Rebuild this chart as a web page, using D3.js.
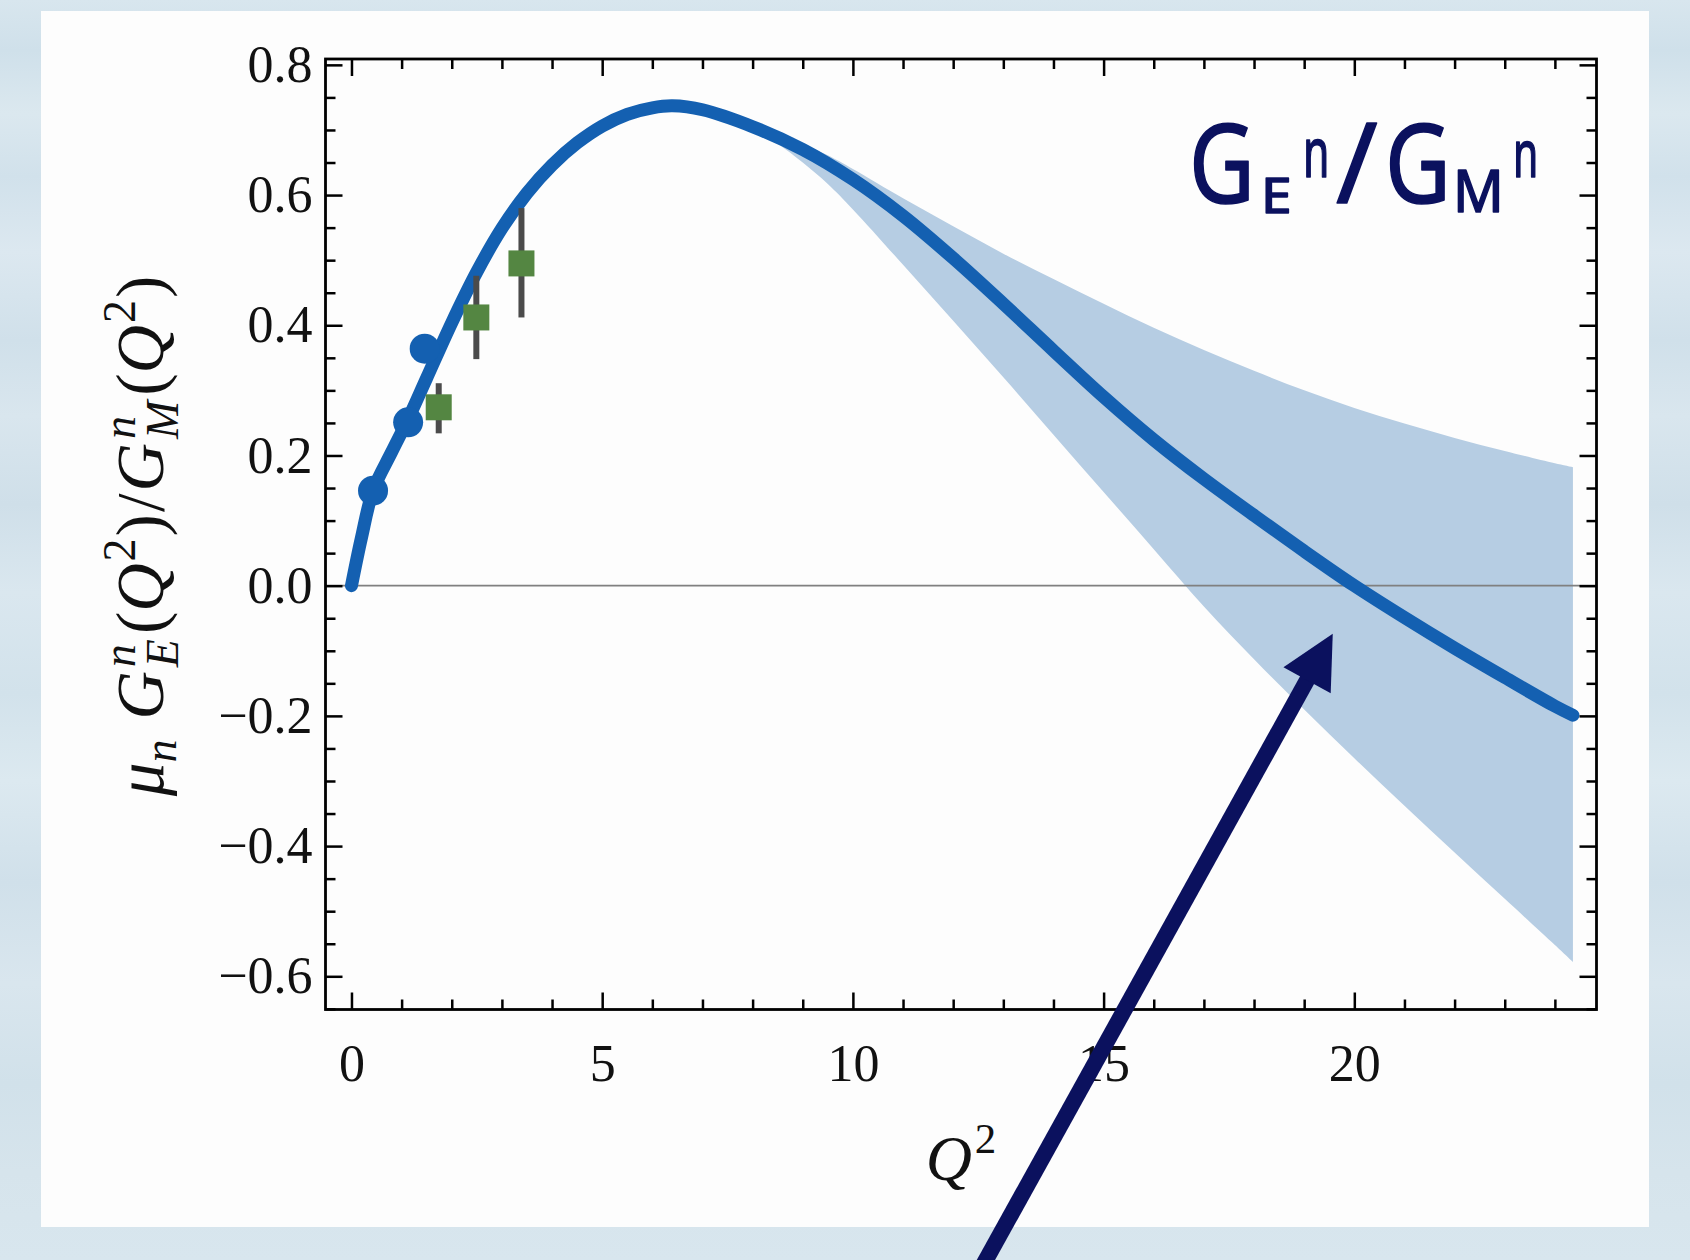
<!DOCTYPE html>
<html>
<head>
<meta charset="utf-8">
<script src="https://cdn.jsdelivr.net/npm/d3@7"></script>
<style>
  html, body { margin: 0; padding: 0; background: #d3e2eb; }
  svg { display: block; }
</style>
</head>
<body>
<svg id="chart" width="1690" height="1260"></svg>
<script>
// ---- Model curve: mu_n * GEn/GMn versus Q^2 ----
const curveQ = [0, 0.2, 0.43, 0.8, 1.13, 1.5, 2.0, 2.5, 3.0, 3.5, 4.0, 4.5, 5.0, 5.5, 6.0, 6.4, 7.0, 8, 9, 10, 11, 12,
                13, 14, 15, 16, 17, 18, 19, 20, 21, 22, 23, 24, 24.36];
const curveV = [0, 0.074, 0.146, 0.205, 0.256, 0.319, 0.404, 0.482, 0.549, 0.603, 0.646, 0.680, 0.706, 0.724, 0.734, 0.737, 0.731, 0.705, 0.670, 0.624, 0.568, 0.503,
                0.433, 0.361, 0.290, 0.224, 0.164, 0.108, 0.053, 0.0, -0.049, -0.096, -0.141, -0.185, -0.199];

// ---- Uncertainty band ----
const bandQ  = [7.6, 8.0, 8.5, 9.0, 9.5, 10, 11, 12, 13, 14, 15, 16, 17, 18, 19, 20, 21, 22, 23, 24, 24.36];
const bandHi = [0.716, 0.706, 0.694, 0.679, 0.661, 0.640, 0.595, 0.552, 0.510, 0.471, 0.433, 0.396, 0.362, 0.330, 0.300, 0.273, 0.249, 0.227, 0.207, 0.188, 0.182];
const bandLo = [0.716, 0.702, 0.679, 0.650, 0.617, 0.578, 0.493, 0.407, 0.320, 0.232, 0.144, 0.056, -0.032, -0.113, -0.190, -0.265, -0.338, -0.410, -0.481, -0.552, -0.578];

// ---- Blue points ----
const blueQ = [0.43, 1.13, 1.46];
const blueV = [0.146, 0.251, 0.364];

// ---- Green measurements with error bars ----
const greenQ  = [1.74, 2.49, 3.39];
const greenV  = [0.274, 0.412, 0.495];
const greenLo = [0.234, 0.348, 0.412];
const greenHi = [0.311, 0.476, 0.580];

// ---- Ticks ----
const xMajor = [0, 5, 10, 15, 20];
const xMinor = d3.range(0, 25).filter(v => v % 5 !== 0);
const yMajor = [-0.6, -0.4, -0.2, 0.0, 0.2, 0.4, 0.6, 0.8];
const yMinor = d3.range(-13, 17).filter(i => i % 4 !== 0).map(i => i * 0.05);

// ---- Arrow annotation (data coordinates: tail, tip) ----
const arrowFrom = [12.32, -1.082];
const arrowTo   = [19.57, -0.074];

// ---------------------------------------------------------------
const W = 1690, H = 1260;
const plot = { left: 325.5, right: 1596.5, top: 59, bottom: 1009.5 };
const svg = d3.select('#chart');
const defs = svg.append('defs');

// streaky light-blue backdrop
const bgStops = [[0, '#d8e6ee'], [0.04, '#cfe0ea'], [0.09, '#dbe8ef'], [0.14, '#d1e1eb'], [0.2, '#dce8f0'],
                 [0.27, '#d0e0ea'], [0.33, '#d9e6ee'], [0.4, '#cfdfe9'], [0.47, '#dae7ef'], [0.55, '#d2e2eb'],
                 [0.62, '#dce9f0'], [0.7, '#d0e0ea'], [0.78, '#d9e6ee'], [0.86, '#d1e1ea'], [0.93, '#d6e4ec'], [1, '#d8e6ee']];
const grad = defs.append('linearGradient').attr('id', 'bg').attr('x1', 0).attr('y1', 0).attr('x2', 0).attr('y2', 1);
bgStops.forEach(s => grad.append('stop').attr('offset', s[0]).attr('stop-color', s[1]));
svg.append('rect').attr('width', W).attr('height', H).attr('fill', 'url(#bg)');
svg.append('rect').attr('x', 41).attr('y', 11).attr('width', 1608).attr('height', 1216).attr('fill', '#fdfdfd');

const x = d3.scaleLinear().domain([-0.518, 24.83]).range([plot.left, plot.right]);
const y = d3.scaleLinear().domain([-0.651, 0.809]).range([plot.bottom, plot.top]);

// band
const band = bandQ.map((q, i) => ({ q, lo: bandLo[i], hi: bandHi[i] }));
svg.append('path').datum(band)
  .attr('d', d3.area().x(d => x(d.q)).y0(d => y(d.lo)).y1(d => y(d.hi)).curve(d3.curveCatmullRom.alpha(0.5)))
  .attr('fill', '#b6cde3');

// zero line
svg.append('line')
  .attr('x1', plot.left).attr('x2', plot.right)
  .attr('y1', y(0)).attr('y2', y(0))
  .attr('stroke', '#808080').attr('stroke-width', 1.8);

// curve
const curve = curveQ.map((q, i) => ({ q, v: curveV[i] }));
svg.append('path').datum(curve)
  .attr('d', d3.line().x(d => x(d.q)).y(d => y(d.v)).curve(d3.curveCatmullRom.alpha(0.5)))
  .attr('fill', 'none').attr('stroke', '#1460b1').attr('stroke-width', 13)
  .attr('stroke-linecap', 'round').attr('stroke-linejoin', 'round');

// blue points
svg.append('g').selectAll('circle').data(blueQ.map((q, i) => ({ q, v: blueV[i] })))
  .join('circle').attr('cx', d => x(d.q)).attr('cy', d => y(d.v)).attr('r', 15).attr('fill', '#1460b1');

// green points with error bars
const green = greenQ.map((q, i) => ({ q, v: greenV[i], lo: greenLo[i], hi: greenHi[i] }));
const gG = svg.append('g');
gG.selectAll('line').data(green).join('line')
  .attr('x1', d => x(d.q)).attr('x2', d => x(d.q))
  .attr('y1', d => y(d.lo)).attr('y2', d => y(d.hi))
  .attr('stroke', '#4b4b4b').attr('stroke-width', 6);
gG.selectAll('rect').data(green).join('rect')
  .attr('x', d => x(d.q) - 13).attr('y', d => y(d.v) - 13)
  .attr('width', 26).attr('height', 26).attr('fill', '#548642');

// axes (inward ticks on all four sides)
const serif = '"Liberation Serif", "DejaVu Serif", serif';
function styleAxis(g) {
  g.select('.domain').remove();
  g.selectAll('.tick line').attr('stroke', '#000').attr('stroke-width', 2.5);
  g.selectAll('text').attr('fill', '#111').style('font-family', serif).style('font-size', '52px');
  g.attr('font-family', null).attr('font-size', null);
}
function addAxis(gen, tx, ty) {
  svg.append('g').attr('transform', `translate(${tx},${ty})`).call(gen).call(styleAxis);
}
addAxis(d3.axisBottom(x).tickValues(xMinor).tickSizeInner(-10).tickSizeOuter(0).tickFormat(''), 0, plot.bottom);
addAxis(d3.axisBottom(x).tickValues(xMajor).tickSizeInner(-17).tickSizeOuter(0).tickPadding(35).tickFormat(d3.format('d')), 0, plot.bottom);
addAxis(d3.axisTop(x).tickValues(xMinor).tickSizeInner(-10).tickSizeOuter(0).tickFormat(''), 0, plot.top);
addAxis(d3.axisTop(x).tickValues(xMajor).tickSizeInner(-17).tickSizeOuter(0).tickFormat(''), 0, plot.top);
addAxis(d3.axisLeft(y).tickValues(yMinor).tickSizeInner(-10).tickSizeOuter(0).tickFormat(''), plot.left, 0);
addAxis(d3.axisLeft(y).tickValues(yMajor).tickSizeInner(-17).tickSizeOuter(0).tickPadding(13)
  .tickFormat(d3.format('.1f')), plot.left, 0);
addAxis(d3.axisRight(y).tickValues(yMinor).tickSizeInner(-10).tickSizeOuter(0).tickFormat(''), plot.right, 0);
addAxis(d3.axisRight(y).tickValues(yMajor).tickSizeInner(-17).tickSizeOuter(0).tickFormat(''), plot.right, 0);

// frame
svg.append('rect')
  .attr('x', plot.left).attr('y', plot.top)
  .attr('width', plot.right - plot.left).attr('height', plot.bottom - plot.top)
  .attr('fill', 'none').attr('stroke', '#000').attr('stroke-width', 2.8);

// x-axis title: Q^2
const xt = svg.append('text').attr('x', 961).attr('y', 1180).attr('text-anchor', 'middle')
  .style('font-family', serif).style('font-size', '64px').attr('fill', '#111');
xt.append('tspan').style('font-style', 'italic').text('Q');
xt.append('tspan').style('font-size', '43px').attr('dx', 3).attr('dy', -27).text('2');

// y-axis title: mu_n G_E^n(Q^2)/G_M^n(Q^2)
const ysz = 67, ssz = 46;
const yt = svg.append('text').attr('transform', 'translate(163,536) rotate(-90)').attr('text-anchor', 'middle')
  .style('font-family', serif).style('font-size', ysz + 'px').attr('fill', '#111');
const parts = [
  // [text, italic, small, dy, dx]
  ['μ', 1, 0, 0, 0], ['n', 1, 1, 13, 0],
  ['G', 1, 0, -13, 20], ['n', 1, 1, -28, 4], ['E', 1, 1, 43, -23],
  ['(', 0, 0, -15, 5], ['Q', 1, 0, 0, 0], ['2', 0, 1, -28, 2], [')', 0, 0, 28, 2],
  ['/', 0, 0, 0, 2],
  ['G', 1, 0, 0, 2], ['n', 1, 1, -28, 4], ['M', 1, 1, 43, -23],
  ['(', 0, 0, -15, 5], ['Q', 1, 0, 0, 0], ['2', 0, 1, -28, 2], [')', 0, 0, 28, 2]
];
parts.forEach(([t, it, small, dy, dx]) => {
  yt.append('tspan').style('font-style', it ? 'italic' : 'normal')
    .style('font-size', (small ? ssz : ysz) + 'px').attr('dy', dy).attr('dx', dx).text(t);
});

// hand-lettered title "GEn/GMn"
const hand = '"Noto Sans", "Open Sans", sans-serif';
const navy = '#0b115e';
const glyphs = [
  // [text, left x, baseline y, font size, horizontal scale]
  ['G', 1189, 203, 109, 0.83],
  ['E', 1261, 213, 50, 1.1],
  ['n', 1303, 177, 69, 0.62],
  ['/', 1336, 203, 112, 1.0],
  ['G', 1385, 203, 109, 0.83],
  ['M', 1453, 212, 59, 0.95],
  ['n', 1513, 177, 66, 0.62]
];
glyphs.forEach(([t, gx, gy, fs, sx]) => {
  svg.append('text').attr('transform', `translate(${gx},${gy}) scale(${sx},1)`)
    .style('font-family', hand).style('font-weight', 400).style('font-size', fs + 'px')
    .attr('fill', navy).attr('stroke', navy).attr('stroke-width', 1.6).attr('stroke-linejoin', 'round')
    .text(t);
});

// arrow pointing at the zero crossing
const ax0 = x(arrowFrom[0]), ay0 = y(arrowFrom[1]);
const ax1 = x(arrowTo[0]), ay1 = y(arrowTo[1]);
const len = Math.hypot(ax1 - ax0, ay1 - ay0);
const ux = (ax1 - ax0) / len, uy = (ay1 - ay0) / len;
const nx = -uy, ny = ux;
const headLen = 53, headHalf = 27;
const bx = ax1 - headLen * ux, by = ay1 - headLen * uy;
svg.append('line')
  .attr('x1', ax0).attr('y1', ay0).attr('x2', bx + 6 * ux).attr('y2', by + 6 * uy)
  .attr('stroke', navy).attr('stroke-width', 16);
svg.append('path')
  .attr('d', `M${ax1},${ay1} L${bx + headHalf * nx},${by + headHalf * ny} L${bx - headHalf * nx},${by - headHalf * ny} Z`)
  .attr('fill', navy);
</script>
</body>
</html>
